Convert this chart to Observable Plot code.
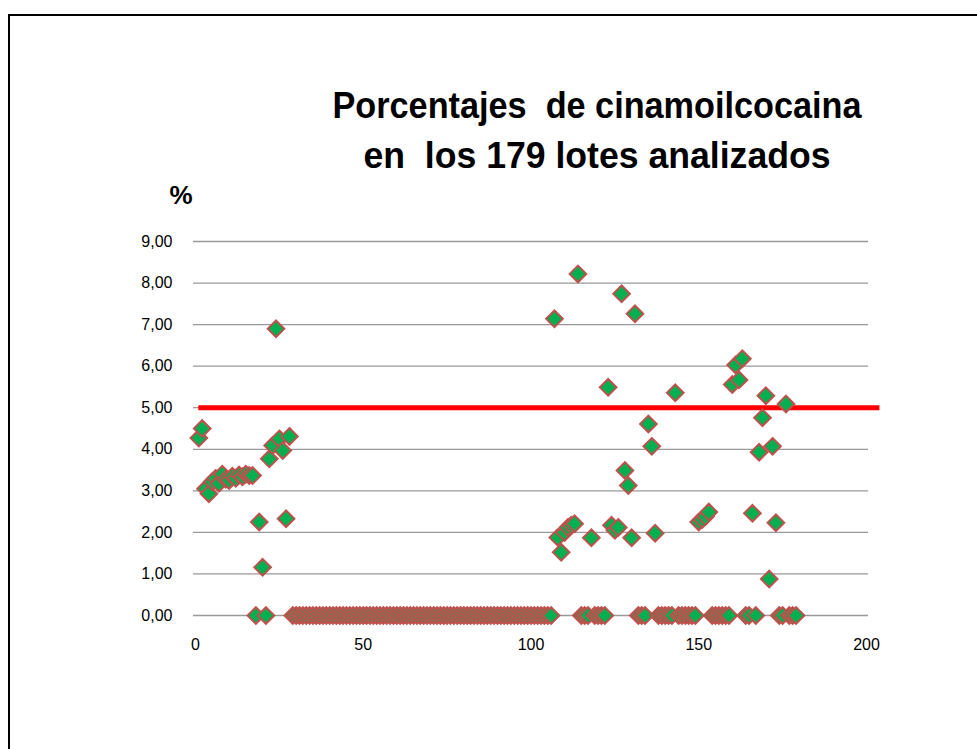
<!DOCTYPE html>
<html>
<head>
<meta charset="utf-8">
<script src="https://cdn.jsdelivr.net/npm/d3@7"></script>
<script src="https://cdn.jsdelivr.net/npm/@observablehq/plot@0.6"></script>
<style>
  body { margin: 0; background: #fff; }
  #wrap { position: relative; width: 977px; height: 749px; overflow: hidden; background: #fff; }
  #chart, #overlay { position: absolute; left: 0; top: 0; }
  #overlay { pointer-events: none; }
</style>
</head>
<body>
<div id="wrap">
  <div id="chart"></div>
  <svg id="overlay" width="977" height="749" xmlns="http://www.w3.org/2000/svg">
    <line x1="9" y1="15" x2="977" y2="15" stroke="#000" stroke-width="2"/>
    <line x1="9" y1="14" x2="9" y2="749" stroke="#000" stroke-width="2"/>
    <g font-family="'Liberation Sans', Arial, sans-serif" font-weight="bold" fill="#000" text-anchor="middle">
      <text id="t1" x="597" y="118" font-size="36" textLength="529" lengthAdjust="spacingAndGlyphs" xml:space="preserve"></text>
      <text id="t2" x="597" y="168" font-size="36" textLength="467" lengthAdjust="spacingAndGlyphs" xml:space="preserve"></text>
      <text id="ylab" x="181" y="204" font-size="26"></text>
    </g>
  </svg>
</div>
<script>
// ---- data ----
const title1 = "Porcentajes  de cinamoilcocaina";
const title2 = "en  los 179 lotes analizados";
const yUnit = "%";
const xTicks = [0, 50, 100, 150, 200];
const yTicks = [0, 1, 2, 3, 4, 5, 6, 7, 8, 9];
const limitValue = 5;        // red reference line at 5 %
const limitStart = 1;        // lot where the red line starts
const limitEnd = 204;        // lot where the red line ends
// % cinamoilcocaina for lots 1..179
const pct = [
  4.27, 4.50, 3.05, 2.93, 3.22, 3.30, 3.18, 3.40, 3.28, 3.25,
  3.35, 3.30, 3.38, 3.34, 3.40, 3.37, 3.37, 0.00, 2.25, 1.16,
  0.00, 3.77, 4.09, 6.90, 4.25, 3.97, 2.33, 4.31, 0.00, 0.00,
  0.00, 0.00, 0.00, 0.00, 0.00, 0.00, 0.00, 0.00, 0.00, 0.00,
  0.00, 0.00, 0.00, 0.00, 0.00, 0.00, 0.00, 0.00, 0.00, 0.00,
  0.00, 0.00, 0.00, 0.00, 0.00, 0.00, 0.00, 0.00, 0.00, 0.00,
  0.00, 0.00, 0.00, 0.00, 0.00, 0.00, 0.00, 0.00, 0.00, 0.00,
  0.00, 0.00, 0.00, 0.00, 0.00, 0.00, 0.00, 0.00, 0.00, 0.00,
  0.00, 0.00, 0.00, 0.00, 0.00, 0.00, 0.00, 0.00, 0.00, 0.00,
  0.00, 0.00, 0.00, 0.00, 0.00, 0.00, 0.00, 0.00, 0.00, 0.00,
  0.00, 0.00, 0.00, 0.00, 0.00, 0.00, 7.14, 1.88, 1.52, 2.00,
  2.12, 2.17, 2.21, 8.22, 0.00, 0.00, 0.00, 1.87, 0.00, 0.00,
  0.00, 0.00, 5.49, 2.17, 2.05, 2.12, 7.74, 3.49, 3.13, 1.87,
  7.26, 0.00, 0.00, 0.00, 4.61, 4.07, 1.98, 0.00, 0.00, 0.00,
  0.00, 0.00, 5.36, 0.00, 0.00, 0.00, 0.00, 0.00, 0.00, 2.25,
  2.31, 2.38, 2.49, 0.00, 0.00, 0.00, 0.00, 0.00, 0.00, 5.56,
  6.03, 5.67, 6.18, 0.00, 0.00, 2.46, 0.00, 3.93, 4.76, 5.29,
  0.88, 4.07, 2.23, 0.00, 0.00, 5.09, 0.00, 0.00, 0.00
];
const lots = pct.map((_, i) => i + 1);
const data = lots.map((lot, i) => ({lot, pct: pct[i]}));

document.getElementById("t1").textContent = title1;
document.getElementById("t2").textContent = title2;
document.getElementById("ylab").textContent = yUnit;

const chart = Plot.plot({
  width: 977,
  height: 749,
  marginLeft: 195,
  marginRight: 111,
  marginTop: 241,
  marginBottom: 134,
  style: {fontFamily: "'Liberation Sans', Arial, sans-serif", fontSize: "16px", color: "#000", background: "transparent"},
  x: {domain: [0, 200], ticks: xTicks, tickSize: 0, tickPadding: 23, label: null, tickFormat: d => String(d)},
  y: {domain: [0, 9], ticks: yTicks, tickSize: 0, tickPadding: 23, label: null,
      tickFormat: d => d.toFixed(2).replace(".", ",")},
  marks: [
    Plot.ruleY(yTicks, {x1: -0.6, x2: 200.6, stroke: "#999999", strokeWidth: 1.3}),
    Plot.ruleY([limitValue], {x1: limitStart, x2: limitEnd, stroke: "#ff0000", strokeWidth: 5}),
    Plot.dot(data, {x: "lot", y: "pct", symbol: "diamond2", r: 7.5,
      fill: "#00b050", fillOpacity: 1, stroke: "#c0504d", strokeWidth: 2})
  ]
});
document.getElementById("chart").appendChild(chart);
</script>
</body>
</html>
